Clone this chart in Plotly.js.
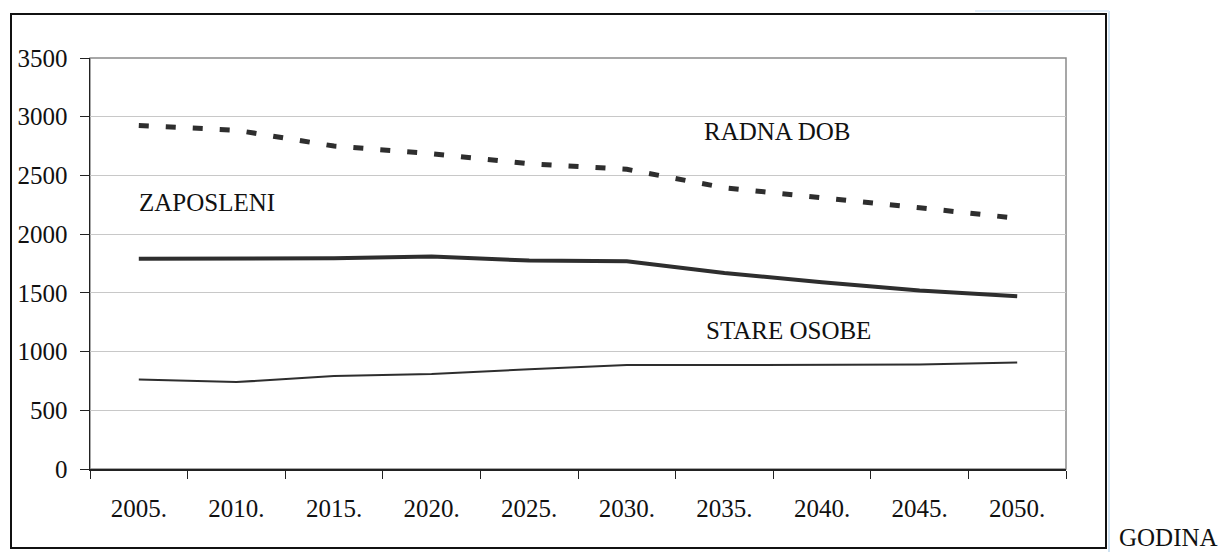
<!DOCTYPE html>
<html>
<head>
<meta charset="utf-8">
<script src="https://cdn.plot.ly/plotly-3.0.1.min.js"></script>
<style>
html,body{margin:0;padding:0;background:#fff;}
#chart{width:1225px;height:552px;}
</style>
</head>
<body>
<div id="chart"></div>
<script>
const years = ['2005.', '2010.', '2015.', '2020.', '2025.', '2030.', '2035.', '2040.', '2045.', '2050.'];
const radnaDob = [2925, 2885, 2750, 2685, 2600, 2552, 2395, 2312, 2225, 2135];
const zaposleni = [1790, 1795, 1795, 1810, 1775, 1770, 1670, 1590, 1520, 1472];
const stareOsobe = [762, 740, 792, 808, 850, 885, 885, 890, 890, 906];
const yTicks = [0, 500, 1000, 1500, 2000, 2500, 3000, 3500];

const L = 90, R = 1066, T = 58, B = 469, W = 1225, H = 552;
const px = v => (v - L) / (R - L);
const py = v => (B - v) / (B - T);

const font = {family: 'Liberation Serif, Times New Roman, serif', color: '#111'};
const fs = 25;

const traces = [
  {x: years, y: radnaDob, type: 'scatter', mode: 'lines', name: 'RADNA DOB',
   line: {color: '#2e2e2e', width: 5, dash: '10px,17px'}},
  {x: years, y: zaposleni, type: 'scatter', mode: 'lines', name: 'ZAPOSLENI',
   line: {color: '#2e2e2e', width: 4}},
  {x: years, y: stareOsobe, type: 'scatter', mode: 'lines', name: 'STARE OSOBE',
   line: {color: '#2e2e2e', width: 2}}
];

const layout = {
  width: W, height: H,
  margin: {l: L, r: W - R, t: T, b: H - B, pad: 0},
  paper_bgcolor: '#fff', plot_bgcolor: '#fff',
  showlegend: false,
  font: Object.assign({size: fs}, font),
  xaxis: {
    type: 'category', tickson: 'boundaries', ticks: 'outside', ticklen: 8, tickcolor: '#222',
    showline: true, linecolor: '#222', linewidth: 1.5, showgrid: false, zeroline: false,
    tickfont: Object.assign({size: fs}, font), ticklabelstandoff: 16,
    range: [-0.5, 9.5]
  },
  yaxis: {
    range: [0, 3500], tickvals: yTicks, ticks: 'outside', ticklen: 9, tickcolor: '#222',
    showline: true, linecolor: '#222', linewidth: 1.5, showgrid: true, gridcolor: '#c8c8c8', gridwidth: 1,
    zeroline: false, tickfont: Object.assign({size: fs}, font), ticklabelstandoff: 7
  },
  shapes: [
    {type: 'rect', xref: 'paper', yref: 'paper', x0: 0, x1: 1, y0: 0, y1: 1,
     line: {color: '#8a8a8a', width: 1.5}, layer: 'below'},
    {type: 'rect', xref: 'paper', yref: 'paper', x0: px(11), x1: px(1106), y0: py(548), y1: py(14),
     line: {color: '#111', width: 2}},
    {type: 'line', xref: 'paper', yref: 'paper', x0: px(1109), x1: px(1109), y0: py(552), y1: py(11),
     line: {color: '#cfe3f3', width: 2}},
    {type: 'line', xref: 'paper', yref: 'paper', x0: px(975), x1: px(1109), y0: py(11), y1: py(11),
     line: {color: '#e3eef8', width: 2}}
  ],
  annotations: [
    {text: 'RADNA DOB', xref: 'paper', yref: 'paper', x: px(702), y: py(131), xanchor: 'left', yanchor: 'middle',
     showarrow: false, font: Object.assign({size: fs}, font)},
    {text: 'ZAPOSLENI', xref: 'paper', yref: 'paper', x: px(137), y: py(202), xanchor: 'left', yanchor: 'middle',
     showarrow: false, font: Object.assign({size: fs}, font)},
    {text: 'STARE OSOBE', xref: 'paper', yref: 'paper', x: px(704), y: py(330), xanchor: 'left', yanchor: 'middle',
     showarrow: false, font: Object.assign({size: fs}, font)},
    {text: 'GODINA', xref: 'paper', yref: 'paper', x: px(1117), y: py(537), xanchor: 'left', yanchor: 'middle',
     showarrow: false, font: Object.assign({size: 25}, font)}
  ]
};

Plotly.newPlot('chart', traces, layout, {staticPlot: true, displayModeBar: false});
</script>
</body>
</html>
